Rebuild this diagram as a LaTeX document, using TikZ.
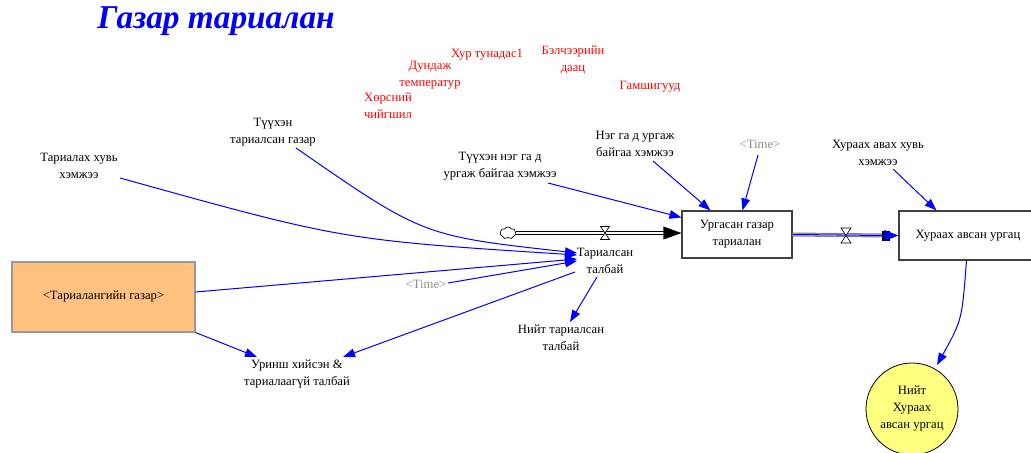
\documentclass[tikz,border=0pt]{standalone}
\usepackage{fontspec}
\setmainfont{Liberation Serif}
\usetikzlibrary{arrows.meta,calc,shapes.symbols}
\definecolor{orangefill}{HTML}{FFC080}
\definecolor{yellowfill}{HTML}{FFFF80}
\definecolor{timegray}{HTML}{8C8C8C}
\begin{document}
\begin{tikzpicture}[x=0.75pt,y=-0.75pt,
  lbl/.style={align=center,inner sep=1pt,font=\fontsize{9.5}{12.75}\selectfont},
  redlbl/.style={lbl,text=red},
  timelbl/.style={lbl,text=timegray},
  link/.style={draw=blue,line width=0.75pt,-{Triangle[length=9pt,width=6.5pt]}},
  stockbox/.style={lbl,draw=black!75,line width=0.8pt},
  valvesym/.style={draw=black,fill=white,line width=0.5pt}
]
\useasboundingbox (0,0) rectangle (1031,453);

% title
\node[font=\fontsize{25}{29}\selectfont\bfseries\itshape,text=blue] (title) at (216,21) {Газар тариалан};

% red labels
\node[redlbl] (hur) at (487,55) {Хур тунадас1};
\node[redlbl] (belch) at (573,60) {Бэлчээрийн\\даац};
\node[redlbl] (dund) at (430,75) {Дундаж\\температур};
\node[redlbl] (hors) at (388,106) {Хөрсний\\чийгшил};
\node[redlbl] (gam) at (650,87) {Гамшигууд};

% black labels
\node[lbl] (tuuhgazar) at (273,132) {Түүхэн\\тариалсан газар};
\node[lbl] (tarialah) at (79,166) {Тариалах хувь\\хэмжээ};
\node[lbl] (tuuhneg) at (500,166) {Түүхэн нэг га д\\ургаж байгаа хэмжээ};
\node[lbl] (neg) at (635,144) {Нэг га д ургаж\\байгаа хэмжээ};
\node[timelbl] (time1) at (760,144) {<Time>};
\node[lbl] (huraahhuv) at (878,153) {Хураах авах хувь\\хэмжээ};
\node[lbl] (tarialsan) at (605,261) {Тариалсан\\талбай};
\node[timelbl] (time2) at (426,284) {<Time>};
\node[lbl] (niittar) at (561,338) {Нийт тариалсан\\талбай};
\node[lbl] (uringsh) at (297,374) {Уринш хийсэн \&\\тариалаагүй талбай};

% stocks
\node[stockbox,minimum width=82.5pt,minimum height=35.25pt] (stock1) at (737,234.5) {Ургасан газар\\тариалан};
\node[stockbox,minimum width=103.5pt,minimum height=36.75pt] (stock2) at (968,235.5) {Хураах авсан ургац};

% shadow variable box
\node[lbl,draw=black!40,line width=0.8pt,fill=orangefill,minimum width=137.25pt,minimum height=52.5pt] (tgazar) at (103.5,297) {<Тариалангийн газар>};

% circle
\node[lbl,draw=black,line width=0.6pt,fill=yellowfill,circle,minimum size=69pt,inner sep=0pt] (niithur) at (912,409) {Нийт\\Хураах\\авсан ургац};

% cloud
\node[cloud,draw=black,fill=white,line width=0.5pt,cloud puffs=7,cloud puff arc=120,aspect=1.2,minimum width=12pt,minimum height=9pt,inner sep=0pt] (cloud1) at (508,233) {};

% flow 1
\coordinate (f1end) at ($(stock1.west)+(0,-1.5)$);
\draw[black,line width=3pt] (cloud1.east) -- ($(f1end)+(-14,0)$);
\draw[white,line width=0.9pt] (cloud1.east) -- ($(f1end)+(-14,0)$);
\fill[black] (f1end) -- ++(-18,-6.5) -- ++(0,13) -- cycle;
\coordinate (v1) at (605,233);
\draw[valvesym] ($(v1)+(-4.5,-6.5)$) -- ($(v1)+(4.5,-6.5)$) -- ($(v1)+(-4.5,6.5)$) -- ($(v1)+(4.5,6.5)$) -- cycle;

% flow 2
\draw[gray,line width=3pt] (stock1.east) -- ($(stock2.west)+(-14,0)$);
\draw[white,line width=1.2pt] (stock1.east) -- ($(stock2.west)+(-14,0)$);
\draw[blue,line width=0.8pt] (stock1.east) -- ($(stock2.west)+(-12,0)$);
\fill[black] ($(stock2.west)+(-16,-5)$) rectangle ($(stock2.west)+(-8,5)$);
\fill[blue] (stock2.west) -- ++(-14,-5.5) -- ++(0,11) -- cycle;
\coordinate (v2) at (846,235.5);
\draw[valvesym] ($(v2)+(-5,-7.5)$) -- ($(v2)+(5,-7.5)$) -- ($(v2)+(-5,7.5)$) -- ($(v2)+(5,7.5)$) -- cycle;

% links
\draw[link] ($(tarialah)+(41,12)$) .. controls (343,240) .. ($(tarialsan)+(-28,-6)$);
\draw[link] ($(tuuhgazar)+(23,16)$) .. controls (423,236) .. ($(tarialsan)+(-28,-8)$);
\draw[link] ($(tuuhneg)+(48,17)$) -- ($(stock1.north west)+(0,7)$);
\draw[link] ($(neg)+(18,17)$) -- ($(stock1.north west)+(29,0)$);
\draw[link] ($(time1)+(-2,11)$) -- ($(stock1.north west)+(61,0)$);
\draw[link] ($(tgazar.east)+(0,-5)$) -- ($(tarialsan)+(-28,-2)$);
\draw[link] ($(time2)+(22,-1)$) -- ($(tarialsan)+(-28,0)$);
\draw[link] ($(tarialsan)+(-30,11)$) -- ($(uringsh)+(46,-17)$);
\draw[link] ($(tarialsan)+(-8,16)$) -- ($(niittar)+(9,-16)$);
\draw[link] (tgazar.south east) -- ($(uringsh)+(-40,-17)$);
\draw[link] ($(huraahhuv)+(15,16)$) -- ($(stock2.north west)+(38,0)$);
\draw[link] ($(stock2.south west)+(68,0)$) .. controls (962,320) .. ($(niithur)+(25,-44)$);
\end{tikzpicture}
\end{document}
